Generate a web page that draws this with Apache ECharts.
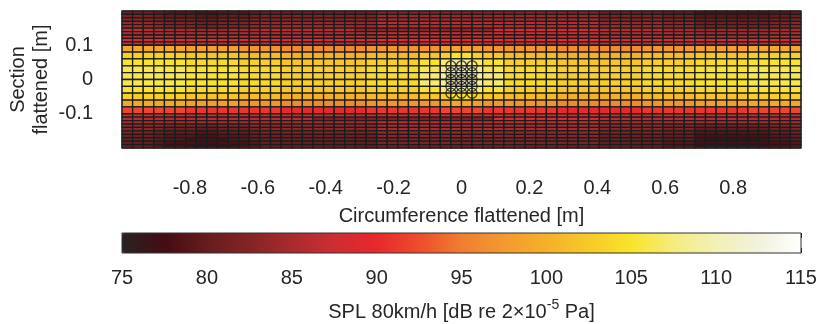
<!DOCTYPE html>
<html><head><meta charset="utf-8">
<script src="https://cdn.jsdelivr.net/npm/echarts@6/dist/echarts.min.js"></script>
<style>html,body{margin:0;padding:0;background:#fff}#c{width:821px;height:324px}</style>
</head><body><div id="c"></div>
<script>
// ---- mesh (nodes) ----
const nCols = 64;
const xRange = [-1, 1];
const yEdges = [-0.2,-0.19,-0.18,-0.17,-0.16,-0.15,-0.14,-0.13,-0.12,-0.11,-0.1,
  -0.08,-0.06,-0.04,-0.02,0,0.02,0.04,0.06,0.08,0.1,
  0.11,0.12,0.13,0.14,0.15,0.16,0.17,0.18,0.19,0.2];
// ---- SPL values per cell, rows listed top -> bottom, one char per column ----
// char index in valueCode + 75 = SPL in dB
const valueCode = "0123456789abcdefghijklmnopqrstuvwxyzABCDE";
const splBase = 75;
const splRows = [
  "6665"+"444334445"+"66666666666"+"888888888888888888888"+"666666555"+"3333333"+"445",
  "7776"+"555445556"+"77777777777"+"999999999999999999999"+"777777666"+"4444444"+"556",
  "8887"+"666556667"+"88888888888"+"aaaaaaaaaaaaaaaaaaaaa"+"888888777"+"5555555"+"667",
  "9998"+"777667778"+"99999999999"+"bbbbbbbbbbbbbbbbbbbbb"+"999999888"+"6666666"+"778",
  "aaa9"+"888778889"+"aaaaaaaaaaa"+"ccccccccccccccccccccc"+"aaaaaa999"+"7777777"+"889",
  "bbbb"+"aaa999aaa"+"bbbbbbbbb"+"8888888888888"+"dddddddddd"+"bbbbbbaaa"+"9999999"+"aaa",
  "bbbb"+"bbbbbbbbb"+"bbbbbbbbbbb"+"ddddddddddddddddddddd"+"bbbbbbbbb"+"aaaaaaa"+"bbb",
  "cccc"+"ccccccccc"+"ccccccccccc"+"eeeeeeeeeeeeeeeeeeeee"+"ccccccccc"+"bbbbbbb"+"ccc",
  "dddd"+"ddddddddd"+"ddddddddddd"+"fffffffffffffffffffff"+"ddddddddd"+"ddddddd"+"ddd",
  "cccc"+"ccccccccc"+"ccccccccccc"+"eeeeeeeeeeeeeeeeeeeee"+"ccccccccc"+"ccccccc"+"ccc",
  "oooooo"+"nnnnn"+"mmmm"+"llllllll"+"mmmmm"+"mm"+"n"+"oo"+"n"+"mm"+"mmmmm"+"llllllll"+"mmmmm"+"nnnnn"+"ooooo",
  "ssssss"+"rrrrr"+"qqqq"+"pppppppp"+"qqqqq"+"rr"+"s"+"uu"+"s"+"rr"+"qqqqq"+"pppppppp"+"qqqqq"+"rrrrr"+"sssss",
  "uuuuuu"+"ttttt"+"ssss"+"rrrrrrrr"+"sssss"+"uu"+"w"+"yy"+"w"+"uu"+"sssss"+"rrrrrrrr"+"sssss"+"ttttt"+"uuuuu",
  "vvvvvv"+"uuuuu"+"tttt"+"ssssssss"+"ttttt"+"vv"+"x"+"zz"+"x"+"vv"+"ttttt"+"ssssssss"+"ttttt"+"uuuuu"+"vvvvv",
  "vvvvvv"+"uuuuu"+"tttt"+"ssssssss"+"ttttt"+"ww"+"y"+"AA"+"y"+"ww"+"ttttt"+"ssssssss"+"ttttt"+"uuuuu"+"vvvvv",
  "vvvvvv"+"uuuuu"+"tttt"+"ssssssss"+"ttttt"+"ww"+"y"+"AA"+"y"+"ww"+"ttttt"+"ssssssss"+"ttttt"+"uuuuu"+"vvvvv",
  "uuuuuu"+"ttttt"+"ssss"+"rrrrrrrr"+"sssss"+"uu"+"w"+"yy"+"w"+"uu"+"sssss"+"rrrrrrrr"+"sssss"+"ttttt"+"uuuuu",
  "ssssss"+"rrrrr"+"qqqq"+"pppppppp"+"qqqqq"+"rr"+"s"+"uu"+"s"+"rr"+"qqqqq"+"pppppppp"+"qqqqq"+"rrrrr"+"sssss",
  "oooooo"+"nnnnn"+"mmmm"+"llllllll"+"mmmmm"+"mm"+"n"+"oo"+"n"+"mm"+"mmmmm"+"llllllll"+"mmmmm"+"nnnnn"+"ooooo",
  "hhhhhh"+"ggggg"+"gggg"+"ffffffff"+"ggggg"+"gg"+"h"+"hh"+"h"+"gg"+"ggggg"+"ffffffff"+"ggggg"+"ggggg"+"hhhhh",
  "dddd"+"ddddddddd"+"ddddddddddd"+"fffffffffffffffffffff"+"ddddddddd"+"ddddddd"+"ddd",
  "bbbb"+"bbbbbbbbb"+"bbbbb"+"77777777777777777"+"dddddddddd"+"bbbbbbbbb"+"bbbbbbb"+"bbb",
  "aaaa"+"aaaaaaaaa"+"aaaaaaaaaaa"+"ccccccccccccccccccccc"+"aaaaaaaaa"+"aaaaaaa"+"aaa",
  "9999"+"888778889"+"99999999999"+"bbbbbbbbbbbbbbbbbbbbb"+"999999888"+"7777777"+"889",
  "8887"+"666556667"+"88888888888"+"aaaaaaaaaaaaaaaaaaaaa"+"888888777"+"5555555"+"667",
  "7776"+"555445556"+"77777777777"+"999999999999999999999"+"777777666"+"4444444"+"556",
  "6665"+"444334445"+"66666666666"+"888888888888888888888"+"666666555"+"3333333"+"445",
  "6665"+"443333445"+"66666666666"+"888888888888888888888"+"666666555"+"3222223"+"445",
  "5554"+"333223334"+"55555555555"+"777777777777777777777"+"555555444"+"2222222"+"334",
  "5554"+"332222334"+"55555555555"+"666666666666666666666"+"555555444"+"2111112"+"334"
];
// microphone positions
const micX = [-0.03125, 0, 0.03125];
const micY = [0.04, 0.02, 0, -0.02, -0.04];
// colour scale
const splMin = 75, splMax = 115;
const hotColors = ['#2a2222','#440c12','#661c1e','#842424','#a82a2e','#cc2e32','#e8282c','#ee4c2e',
  '#f07e30','#f39a30','#f5b02a','#f7ca28','#f8e42a','#f5ec80','#f3f0b8','#f2f1dc','#ffffff'];

const FONT = 'Liberation Sans, Arial, Helvetica, sans-serif';
const nRows = yEdges.length - 1;
const cells = [];
for (let k = 0; k < splRows.length; k++) {
  const row = splRows[k];
  const y0 = yEdges[nRows - k - 1], y1 = yEdges[nRows - k];
  for (let i = 0; i < nCols; i++) {
    const x0 = xRange[0] + (xRange[1] - xRange[0]) * i / nCols;
    const x1 = xRange[0] + (xRange[1] - xRange[0]) * (i + 1) / nCols;
    cells.push([x0, x1, y0, y1, splBase + valueCode.indexOf(row[i])]);
  }
}
const mics = [];
micX.forEach(x => micY.forEach(y => mics.push([x, y])));

const chart = echarts.init(document.getElementById('c'));
const txt = {color: '#262626', fontFamily: FONT, fontSize: 20};
const fmt = v => (Math.abs(v) < 1e-9 ? '0' : (+v.toFixed(1)).toString());
chart.setOption({
  animation: false,
  backgroundColor: '#fff',
  grid: [
    {left: 122, right: 20, top: 11, height: 137, show: true, borderColor: '#2a2a2a', borderWidth: 1,
     backgroundColor: 'transparent', z: 10, outerBoundsMode: 'none', containLabel: false},
    {left: 122, right: 20, top: 233, height: 20, show: true, borderColor: '#333', borderWidth: 1,
     backgroundColor: 'transparent', z: 10, outerBoundsMode: 'none', containLabel: false}
  ],
  xAxis: [
    {type: 'value', gridIndex: 0, min: -1, max: 1, interval: 0.2,
     axisLine: {show: false}, axisTick: {show: false}, splitLine: {show: false},
     axisLabel: Object.assign({margin: 30, showMinLabel: false, showMaxLabel: false, formatter: fmt}, txt),
     name: 'Circumference flattened [m]', nameLocation: 'middle', nameGap: 58, nameMoveOverlap: false, nameTextStyle: txt},
    {type: 'value', gridIndex: 1, min: splMin, max: splMax, interval: 5,
     axisLine: {show: false}, splitLine: {show: false},
     axisTick: {show: true, inside: true, length: 5, lineStyle: {color: '#222', width: 1}},
     axisLabel: Object.assign({margin: 15}, txt),
     name: '{a|SPL 80km/h [dB re 2×10}{s|-5}{a| Pa]}', nameLocation: 'middle', nameGap: 45, nameMoveOverlap: false,
     nameTextStyle: {rich: {
       a: {color: '#262626', fontFamily: FONT, fontSize: 20, lineHeight: 24, verticalAlign: 'bottom'},
       s: {color: '#262626', fontFamily: FONT, fontSize: 14, lineHeight: 14, verticalAlign: 'top'}}}},
    {type: 'value', gridIndex: 1, position: 'top', min: splMin, max: splMax, interval: 5,
     axisLine: {show: false}, splitLine: {show: false}, axisLabel: {show: false},
     axisTick: {show: true, inside: true, length: 5, lineStyle: {color: '#222', width: 1}}}
  ],
  yAxis: [
    {type: 'value', gridIndex: 0, min: -0.2, max: 0.2, interval: 0.1,
     axisLine: {show: false}, axisTick: {show: false}, splitLine: {show: false},
     axisLabel: Object.assign({margin: 29, showMinLabel: false, showMaxLabel: false, formatter: fmt}, txt),
     name: 'Section\nflattened [m]', nameLocation: 'middle', nameGap: 69, nameRotate: 90, nameMoveOverlap: false,
     nameTextStyle: Object.assign({lineHeight: 23}, txt)},
    {type: 'value', gridIndex: 1, min: 0, max: 1, show: false}
  ],
  visualMap: {
    type: 'continuous', min: splMin, max: splMax, seriesIndex: 0, dimension: 4,
    orient: 'horizontal', left: 122, top: 233, itemWidth: 20, itemHeight: 679,
    calculable: false, showLabel: false, text: null, padding: 0, hoverLink: false,
    inRange: {color: hotColors}
  },
  series: [
    {type: 'custom', xAxisIndex: 0, yAxisIndex: 0, data: cells,
     encode: {x: [0, 1], y: [2, 3]},
     renderItem: (params, api) => {
       const p0 = api.coord([api.value(0), api.value(3)]);
       const p1 = api.coord([api.value(1), api.value(2)]);
       return {type: 'rect', shape: {x: p0[0], y: p0[1], width: p1[0] - p0[0], height: p1[1] - p0[1]},
         style: {fill: api.visual('color'), stroke: '#1c1c1c', lineWidth: 1.3}};
     }},
    {type: 'scatter', xAxisIndex: 0, yAxisIndex: 0, data: mics, symbol: 'circle', symbolSize: 10,
     itemStyle: {color: 'rgba(0,0,0,0)', borderColor: '#111', borderWidth: 1.3}, z: 5}
  ]
});
</script></body></html>
